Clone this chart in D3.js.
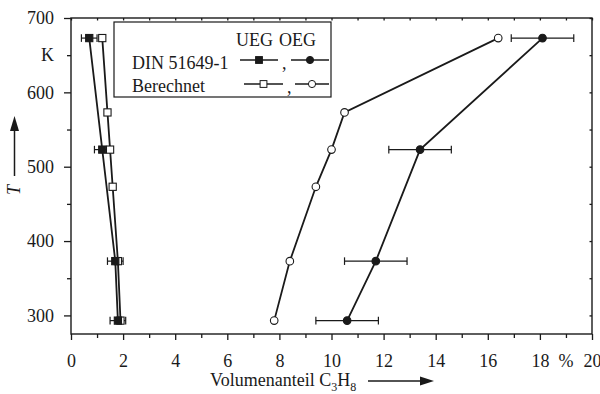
<!DOCTYPE html>
<html><head><meta charset="utf-8">
<script src="https://cdn.jsdelivr.net/npm/d3@7"></script>
<style>
html,body{margin:0;padding:0;background:#fff;}
svg{display:block;}
svg text{font-family:"Liberation Serif","Times New Roman",serif !important;}
</style></head>
<body><svg id="c" width="600" height="394"></svg>
<script>
// ---- data ----
const tempDIN = [673, 523, 373, 293];
const uegDIN = [0.7, 1.2, 1.7, 1.8];
const uegDINErr = [0.3, 0.3, 0.3, 0.3];
const oegDIN = [18.1, 13.4, 11.7, 10.6];
const oegDINErr = [1.2, 1.2, 1.2, 1.2];
const tempCalc = [673, 573, 523, 473, 373, 293];
const uegCalc = [1.2, 1.4, 1.5, 1.6, 1.8, 1.9];
const oegCalc = [16.4, 10.5, 10.0, 9.4, 8.4, 7.8];
const xMajor = [0, 2, 4, 6, 8, 10, 12, 14, 16, 18, 20];
const xMinor = [1, 3, 5, 7, 9, 11, 13, 15, 17, 19];
const yMajor = [300, 400, 500, 600, 700];
const yMinor = [350, 450, 550, 650];
const xUnit = "%", yUnit = "K";

const ink = "#1a1a1a";
const FONT = '"Liberation Serif", "Times New Roman", serif';
const FS = "18px";
const svg = d3.select("#c");
const L = 71, R = 592, T = 18, B = 334;
const x = d3.scaleLinear().domain([0, 20]).range([L, R]);
const y = d3.scaleLinear().domain([275, 700]).range([B, T]);

function txt(sel) { return sel.style("font-family", FONT).style("font-size", FS).attr("fill", ink); }

// axes
const gx = svg.append("g").attr("transform", `translate(0,${B})`);
gx.call(d3.axisBottom(x).tickValues(xMajor).tickSize(6).tickSizeOuter(0).tickPadding(14));
gx.append("g").call(d3.axisBottom(x).tickValues(xMinor).tickSize(4).tickSizeOuter(0).tickFormat(""));
gx.selectAll(".domain").remove();
txt(gx.append("text").attr("x", x(19)).attr("y", 33).attr("text-anchor", "middle")).text(xUnit);

const gy = svg.append("g").attr("transform", `translate(${L},0)`);
gy.call(d3.axisLeft(y).tickValues(yMajor).tickSize(7).tickSizeOuter(0).tickPadding(10));
gy.append("g").call(d3.axisLeft(y).tickValues(yMinor).tickSize(4).tickSizeOuter(0).tickFormat(""));
gy.selectAll(".domain").remove();
txt(gy.append("text").attr("x", -17).attr("y", y(650)).attr("dy", "0.35em").attr("text-anchor", "end")).text(yUnit);

// top/right mirrored small ticks
const gt = svg.append("g").attr("transform", `translate(0,${T})`);
gt.call(d3.axisTop(x).tickValues(xMajor.concat(xMinor)).tickSize(-2.5).tickSizeOuter(0).tickFormat(""));
gt.selectAll(".domain").remove();
const gr = svg.append("g").attr("transform", `translate(${R},0)`);
gr.call(d3.axisRight(y).tickValues(yMajor.concat(yMinor)).tickSize(-2.5).tickSizeOuter(0).tickFormat(""));
gr.selectAll(".domain").remove();

[gx, gy, gt, gr].forEach(g => g.attr("font-family", null).attr("font-size", null));
svg.selectAll(".tick line").attr("stroke", ink).attr("stroke-width", 1.3);
txt(svg.selectAll(".tick text"));

// frame
svg.append("rect").attr("x", L).attr("y", T).attr("width", R - L).attr("height", B - T)
  .attr("fill", "none").attr("stroke", ink).attr("stroke-width", 1.4);

// axis titles
const xt = txt(svg.append("text").attr("x", 210).attr("y", 386));
xt.append("tspan").text("Volumenanteil C");
xt.append("tspan").style("font-size", "12px").attr("dy", 5).text("3");
xt.append("tspan").attr("dy", -5).text("H");
xt.append("tspan").style("font-size", "12px").attr("dy", 5).text("8");
svg.append("line").attr("x1", 368).attr("x2", 424).attr("y1", 381).attr("y2", 381).attr("stroke", ink).attr("stroke-width", 1.5);
svg.append("path").attr("d", "M434,381 L420,376.5 L420,385.5 Z").attr("fill", ink);

txt(svg.append("text").attr("transform", "translate(20,190) rotate(-90)").attr("text-anchor", "middle")
  .style("font-style", "italic")).text("T");
svg.append("line").attr("x1", 14.5).attr("x2", 14.5).attr("y1", 176).attr("y2", 128).attr("stroke", ink).attr("stroke-width", 1.5);
svg.append("path").attr("d", "M14.5,116 L10,131 L19,131 Z").attr("fill", ink);

// series
const line = d3.line();
function series(xs, ts) { return xs.map((v, i) => [x(v), y(ts[i])]); }
const plot = svg.append("g");
[[uegDIN, tempDIN], [oegDIN, tempDIN], [uegCalc, tempCalc], [oegCalc, tempCalc]].forEach(([xs, ts]) => {
  plot.append("path").attr("d", line(series(xs, ts))).attr("fill", "none").attr("stroke", ink).attr("stroke-width", 1.8);
});
function errbars(xs, es, ts) {
  xs.forEach((v, i) => {
    const yy = y(ts[i]), x1 = x(v - es[i]), x2 = x(v + es[i]);
    plot.append("line").attr("x1", x1).attr("x2", x2).attr("y1", yy).attr("y2", yy).attr("stroke", ink).attr("stroke-width", 1.2);
    [x1, x2].forEach(xx => plot.append("line").attr("x1", xx).attr("x2", xx).attr("y1", yy - 3.8).attr("y2", yy + 3.8).attr("stroke", ink).attr("stroke-width", 1.2));
  });
}
errbars(uegDIN, uegDINErr, tempDIN);
errbars(oegDIN, oegDINErr, tempDIN);
function squares(xs, ts, filled) {
  plot.selectAll(null).data(series(xs, ts)).join("rect")
    .attr("x", d => d[0] - 3.6).attr("y", d => d[1] - 3.6).attr("width", 7.2).attr("height", 7.2)
    .attr("fill", filled ? ink : "#fff").attr("stroke", ink).attr("stroke-width", 1.1);
}
function circles(xs, ts, filled) {
  plot.selectAll(null).data(series(xs, ts)).join("circle")
    .attr("cx", d => d[0]).attr("cy", d => d[1]).attr("r", 3.8)
    .attr("fill", filled ? ink : "#fff").attr("stroke", ink).attr("stroke-width", 1.1);
}
squares(uegCalc, tempCalc, false);
circles(oegCalc, tempCalc, false);
squares(uegDIN, tempDIN, true);
circles(oegDIN, tempDIN, true);

// legend
const lg = svg.append("g");
lg.append("rect").attr("x", 114).attr("y", 22).attr("width", 217).attr("height", 75).attr("fill", "#fff").attr("stroke", ink).attr("stroke-width", 1.2);
txt(lg.append("text").attr("x", 236).attr("y", 46)).text("UEG");
txt(lg.append("text").attr("x", 279).attr("y", 46)).text("OEG");
txt(lg.append("text").attr("x", 132).attr("y", 69)).text("DIN 51649-1");
txt(lg.append("text").attr("x", 132).attr("y", 92)).text("Berechnet");
function legSym(x1, x2, yy, shape, filled) {
  lg.append("line").attr("x1", x1).attr("x2", x2).attr("y1", yy).attr("y2", yy).attr("stroke", ink).attr("stroke-width", 1.5);
  const cx = (x1 + x2) / 2;
  if (shape === "sq") lg.append("rect").attr("x", cx - 3.4).attr("y", yy - 3.4).attr("width", 6.8).attr("height", 6.8).attr("fill", filled ? ink : "#fff").attr("stroke", ink).attr("stroke-width", 1);
  else lg.append("circle").attr("cx", cx).attr("cy", yy).attr("r", 3.6).attr("fill", filled ? ink : "#fff").attr("stroke", ink).attr("stroke-width", 1);
}
legSym(240, 278, 60, "sq", true);
txt(lg.append("text").attr("x", 282).attr("y", 69)).text(",");
legSym(291, 329, 60, "ci", true);
legSym(244, 283, 84, "sq", false);
txt(lg.append("text").attr("x", 287).attr("y", 93)).text(",");
legSym(295, 329, 84, "ci", false);
</script></body></html>
